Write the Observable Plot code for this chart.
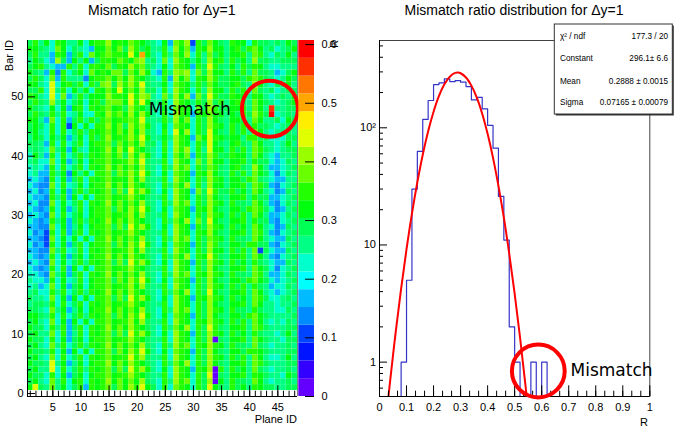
<!DOCTYPE html>
<html><head><meta charset="utf-8">
<script src="https://cdn.jsdelivr.net/npm/d3@7"></script>
<script src="https://cdn.jsdelivr.net/npm/@observablehq/plot@0.6"></script>
<style>
body{margin:0;background:#fff;}
#root{position:relative;width:677px;height:428px;overflow:hidden;background:#fff;}
#root svg{position:absolute;overflow:visible;}
</style></head>
<body><div id="root"></div>
<script>
// ---------------- DATA ----------------
// Heat map: colour band per cell (0-9,a-j => band 0..19 of 20), one string per Bar ID from 59 (top) down to 1,
// each string lists Plane ID 1..48
const mapRows = [
 "9b8a7ba8"+"8a7abbda"+"bacba987"+"a5cbd3b9"+"ca98baa7"+"b99898a9", // 59
 "aa987ca7"+"9875aaca"+"c9db9a88"+"b7dac5ba"+"daa8ab9b"+"ca89789a", // 58
 "9b885ba5"+"9b7cabcb"+"baeaga87"+"b8cad7b8"+"c9a8aab8"+"cb8798a8", // 57
 "8a975d95"+"a8a59bba"+"cbacd897"+"c7dba8a8"+"dab8b9a8"+"d9988999", // 56
 "9ab8755b"+"8b7bbac9"+"badbc987"+"a7cba5b9"+"eb98a8b9"+"ba877888", // 55
 "a985b4b7"+"9a7cabac"+"c9cada75"+"b8dcd7c9"+"daa8b9b8"+"c998579a", // 54
 "9b97c5b8"+"884abbca"+"cadba987"+"b5dac7ba"+"db99aa9b"+"cb9878a9", // 53
 "aa87e7ab"+"9b7b9cd9"+"dbdbe988"+"a7cba8b9"+"ca99ab98"+"da8798a8", // 52
 "99b7e8b7"+"a8a7baca"+"eacad997"+"b7dba7b8"+"daa8b9b7"+"c9897899", // 51
 "ba87e7c5"+"8b8aaadb"+"baebdc87"+"c8dad5c9"+"eb99baa8"+"ba87898a", // 50
 "9b98d8a7"+"9a7ab9cc"+"caebea88"+"b7dba8b9"+"d9b8ab98"+"ca98789a", // 49
 "a987a7a5"+"ab7babca"+"b9dba987"+"a7cba7c9"+"db99aab8"+"ca8i8899", // 48
 "9b98b8b7"+"8a77badb"+"cadada87"+"b7dba5ba"+"caa8a9b9"+"db9j7898", // 47
 "aa85c7b5"+"9b8b9bca"+"bbcbe988"+"b8dac7b9"+"da98aa98"+"ca8897a9", // 46
 "9a97b7b3"+"a7a7bbda"+"c9dbda87"+"a7cba7b9"+"dba8b9b8"+"b9987898", // 45
 "9a87b7b7"+"9b8babca"+"cadad987"+"b7ead7b9"+"ea98b9b8"+"ca878898", // 44
 "8a97a8a5"+"8a7b9bda"+"bbdbea88"+"a8dba5ca"+"eba9aa8b"+"b9977799", // 43
 "9985b7b7"+"9b7abbc9"+"cacad997"+"b7dba7b9"+"ea98ab98"+"ca8878a8", // 42
 "8987c8a5"+"a87aabda"+"daeba987"+"b7dbd7b8"+"eaa8b9b8"+"cb987899", // 41
 "7a85b7b7"+"9b8babca"+"c9dada87"+"a7cac5b9"+"db99baa8"+"ca875889", // 40
 "8977c7a5"+"8a7abbca"+"bbdbe988"+"b7dba7c9"+"daa8aab8"+"b9975798", // 39
 "7875b7b7"+"9b7babda"+"cacad987"+"b8dbc7b9"+"cb98ab98"+"da855789", // 38
 "7855b8a4"+"a8a7bbc9"+"cbdbea87"+"a7cba5ba"+"da98b9b8"+"ca974798", // 37
 "5754b7a5"+"9b7babca"+"badad988"+"b7dba7b9"+"dba8aa9b"+"c9875588", // 36
 "7544c7b7"+"8a7abbda"+"cadba987"+"b8cad7b8"+"daa8aab8"+"cb954789", // 35
 "5745b7a5"+"9b8babc9"+"c9ebda87"+"a7dba5c9"+"eb99b9a8"+"ca874598", // 34
 "7554b8b5"+"a7a7bbca"+"bbdba988"+"b7dba7b9"+"da98aab8"+"b9955789", // 33
 "5744c7a7"+"9b7babda"+"cacad987"+"b8dbc7b9"+"dba8b998"+"ca854798", // 32
 "7545b7a5"+"8b7abbc9"+"cadbea87"+"a7cba5ba"+"da98aa9b"+"cb974589", // 31
 "5754c7b7"+"9a7abbca"+"bbdad988"+"b7dba7b9"+"dba8b9b8"+"ca855798", // 30
 "7545b8a5"+"9b8babda"+"cadba987"+"b8cad7c9"+"ea98aab8"+"b9954789", // 29
 "5544c7a5"+"8a7abbc9"+"c9ebda87"+"a7dba5b9"+"dba8b9a8"+"ca874598", // 28
 "7453b7b5"+"9b7babca"+"bbdba988"+"b7dba7ba"+"da98aab8"+"cb854789", // 27
 "5543c7a7"+"a7a7bbda"+"cacad987"+"b8dbc7b9"+"cba8b998"+"ca875598", // 26
 "7453b7a5"+"9b7abbc9"+"cadbea87"+"a7cba5b9"+"db98aa9b"+"b9954789", // 25
 "5544c8b7"+"8b7babca"+"bbdad988"+"b7dba7b9"+"daa8b9b8"+"c3975598", // 24
 "7545b7a5"+"9a7abbda"+"cadba987"+"b8cad7ba"+"eb98aab8"+"ca854789", // 23
 "5754c7a7"+"9b8babc9"+"c9ebda87"+"a7dba5b9"+"dba8b9a8"+"b9875598", // 22
 "7545b7b5"+"a7a7bbca"+"bbdba988"+"b7dba7b9"+"da98aab8"+"ca974789", // 21
 "7754c8a5"+"9b7babda"+"cacad987"+"b8dbc7ba"+"dba8b998"+"cb855798", // 20
 "8775b7a7"+"8b7abbc9"+"cadbea87"+"a7cba5b9"+"da98aa9b"+"ca975789", // 19
 "7857c7a5"+"9a7abbca"+"bbdad988"+"b7dba7b9"+"dba8b9b8"+"b9857798", // 18
 "8977b8b7"+"9b8babda"+"cadba987"+"b8cad7b9"+"ea98aab8"+"ca875789", // 17
 "9887c7a5"+"a7a7bbc9"+"c9ebda87"+"a7dba5ba"+"dba8b9a8"+"cb977898", // 16
 "8998b7b7"+"9b7babca"+"bbdba988"+"b7dba7b9"+"da98aab8"+"ca887889", // 15
 "9987c8a5"+"8a7abbda"+"cacad987"+"b8dbc7b9"+"dba8b998"+"b9887798", // 14
 "aa98b7b7"+"9b8babc9"+"cadbea87"+"a7cba5b9"+"da98aa9b"+"ca988889", // 13
 "9a87c7a5"+"a7a7bbca"+"bbdad988"+"b7dba7ba"+"dba8b9b8"+"ca878798", // 12
 "a997b8b5"+"9b7babda"+"cadba987"+"b8cad7b9"+"eb98aab8"+"cb988899", // 11
 "9a88c7b5"+"8b7babc9"+"c9ebda87"+"a7dba5b9"+"dba8b9a8"+"b98878a8", // 10
 "a997b7a5"+"9a7abbca"+"bbdba988"+"b7dba7b9"+"d098aab8"+"ca988799", // 9
 "9a87c8b7"+"9b8babda"+"cacad987"+"b8dbc7ba"+"dba8b998"+"c9878898", // 8
 "a998b7a5"+"a7a7bbc9"+"cadbea87"+"a7cba5b9"+"da98aa9b"+"ba988899", // 7
 "9a87c7b7"+"9b7babca"+"bbebd988"+"b7dba7b9"+"dba8b9b8"+"ca8778a8", // 6
 "a998e8a5"+"8a7abbda"+"cadba987"+"b8cad7b9"+"da98aab8"+"cb988899", // 5
 "9a88e7b7"+"9b8babc9"+"c9ebda87"+"a7dba5ba"+"d0b8b9a8"+"c9878898", // 4
 "a997b7a5"+"9a7abbca"+"bbdba988"+"b7dba7b9"+"e098aab8"+"ba9887a9", // 3
 "9a87c8b7"+"ab7babda"+"cacad987"+"b8dbc7b9"+"d0a8b998"+"ca878898", // 2
 "ae98c8a7"+"9b5babc9"+"cadbea97"+"b7cba7b9"+"ea98b9a8"+"ba998899"  // 1
];
const zMax = 0.607;
const nBands = 20;
const palette = ["#6300ff","#3300ff","#0014ff","#0044ff","#008bff","#00bbff","#00fffc","#00ffcc","#00ff85","#00ff55",
                 "#00ff0e","#22ff00","#69ff00","#99ff00","#e0ff00","#ffee00","#ffa700","#ff7700","#ff3000","#ff0000"];

// Histogram of R (bin width 0.02 from 0 to 1)
const binWidth = 0.02;
const histCounts = [0,0,0,0,1,5,30,63,118,171,234,242,262,248,253,245,225,173,182,145,105,67,26,11,2,1,0,0,1,0,1,
                    0,0,0,0,0,0,0,0,0,0,0,0,0,0,0,0,0,0,0];
// Gaussian fit curve as drawn
const fitR = [0.03,0.04,0.06,0.08,0.10,0.12,0.14,0.16,0.18,0.20,0.22,0.24,0.26,0.28,0.29,0.30,0.32,0.34,0.36,0.38,0.40,0.42,0.44,0.46,0.48,0.50,0.52,0.54,0.56];
const fitN = [0.435,0.714,1.81,4.24,9.20,18.5,34.3,58.9,93.5,137,187,235,273,294,296,292,269,229,181,132,88.8,55.4,31.9,17.1,8.42,3.84,1.62,0.635,0.229];
const statsRows = [["χ² / ndf","177.3 / 20"],["Constant","296.1± 6.6"],["Mean","0.2888 ± 0.0015"],["Sigma","0.07165 ± 0.00079"]];

// tick values
const mapYMajor = [0,10,20,30,40,50];
const mapYMinor = [2,4,6,8,12,14,16,18,22,24,26,28,32,34,36,38,42,44,46,48,52,54,56,58];
const mapXMajor = [5,10,15,20,25,30,35,40,45];
const mapXMinor = d3.range(1,49);
const zTicks = [0,0.1,0.2,0.3,0.4,0.5,0.6];
const histXMajor = [0,0.1,0.2,0.3,0.4,0.5,0.6,0.7,0.8,0.9,1];
const histXMinor = d3.range(0,31).map(i=>i/30);
const histYMajor = [1,10,100];
const histYMinor = [0.6,0.7,0.8,0.9,2,3,4,5,6,7,8,9,20,30,40,50,60,70,80,90,200,300,400,500];

// annotations (data-space anchors)
const mapCircle = [{plane:43.6, bar:48.0}];
const mapLabel = [{plane:22.06, bar:47.94, text:"Mismatch"}];
const histCircle = [{R:0.5875, n:0.84}];
const histLabel = [{R:0.7066, n:0.856, text:"Mismatch"}];

// ---------------- BUILD ----------------
const FONT = "'Liberation Sans', Arial, Helvetica, sans-serif";
const root = document.getElementById("root");
function place(svg, left, top){ svg.style.position="absolute"; svg.style.left=left+"px"; svg.style.top=top+"px"; root.appendChild(svg); }

const cells = [];
mapRows.forEach((s,i)=>{ const bar = 59 - i; for (let j=0;j<s.length;j++){ const k = parseInt(s[j],20); cells.push({plane:j+1, bar, r:(k+0.5)*zMax/nBands}); }});
const colorScale = {type:"threshold", domain:d3.range(1,nBands).map(k=>k*zMax/nBands), range:palette};
const styleBase = {background:"none", fontFamily:FONT, fontSize:"11px", color:"black", overflow:"visible"};

const heat = Plot.plot({
  width:300, height:428, marginLeft:27, marginRight:3, marginTop:40, marginBottom:32,
  style:styleBase,
  x:{domain:[0.5,48.5]}, y:{domain:[-0.5,59.5]},
  color:colorScale,
  marks:[
    Plot.rect(cells,{x1:d=>d.plane-0.5,x2:d=>d.plane+0.5,y1:d=>d.bar-0.5,y2:d=>d.bar+0.5,fill:"r"}),
    Plot.ruleX([48.5],{stroke:"#808080"}),
    Plot.ruleX([0.5],{stroke:"black"}),
    Plot.ruleY([-0.5],{stroke:"black"}),
    Plot.tickY(mapYMajor,{y:d=>d,insetRight:262,stroke:"black"}),
    Plot.tickY(mapYMinor,{y:d=>d,insetRight:266,stroke:"black"}),
    Plot.tickX(mapXMajor,{x:d=>d,insetTop:345.3,stroke:"black"}),
    Plot.tickX(mapXMinor,{x:d=>d,insetTop:350.7,stroke:"black"}),
    Plot.axisY({ticks:mapYMajor,tickSize:0,tickPadding:4,label:null}),
    Plot.axisX({ticks:mapXMajor,tickSize:0,tickPadding:7,label:null}),
    Plot.dot(mapCircle,{x:"plane",y:"bar",r:28,stroke:"#ff0000",strokeWidth:4,fill:"none"}),
    Plot.text(mapLabel,{x:"plane",y:"bar",text:"text",textAnchor:"start",fontFamily:"'DejaVu Sans', sans-serif",fontSize:17,fill:"black"})
  ]
});
place(heat,0,0);

const bands = d3.range(nBands);
const cbar = Plot.plot({
  width:60, height:428, marginLeft:8.3, marginRight:36, marginTop:40, marginBottom:32,
  style:styleBase,
  x:{domain:[0,1],axis:null}, y:{domain:[0,zMax]},
  color:colorScale,
  marks:[
    Plot.rect(bands,{x1:0,x2:1,y1:k=>k*zMax/nBands,y2:k=>(k+1)*zMax/nBands,fill:k=>(k+0.5)*zMax/nBands}),
    Plot.tickY(zTicks,{y:d=>d,insetLeft:6.7,stroke:"black"}),
    Plot.axisY({anchor:"right",ticks:zTicks,tickSize:0,tickPadding:7,label:null,tickFormat:d=>d===0?"0":d.toFixed(1)})
  ]
});
place(cbar,290,0);

const histLine = histCounts.map((c,i)=>({x:i*binWidth, y:c>0?c:0.01})).concat([{x:1,y:0.01}]);
const fitPts = fitR.map((r,i)=>({x:r,y:fitN[i]}));
const yDom = [0.509,556];
const hist = Plot.plot({
  width:337, height:428, marginLeft:39, marginRight:27.7, marginTop:40, marginBottom:32,
  style:styleBase,
  x:{domain:[0,1]}, y:{type:"log",domain:yDom},
  marks:[
    Plot.frame({stroke:"#444"}),
    Plot.line(histLine,{x:"x",y:"y",curve:"step-after",stroke:"#3535c8",strokeWidth:1.2,clip:true}),
    Plot.line(fitPts,{x:"x",y:"y",curve:"catmull-rom",stroke:"#ff0000",strokeWidth:2,clip:true}),
    Plot.ruleX([0],{stroke:"black"}),
    Plot.ruleY([yDom[0]],{stroke:"black"}),
    Plot.tickX(histXMajor,{x:d=>d,insetTop:345.3,stroke:"black"}),
    Plot.tickX(histXMinor,{x:d=>d,insetTop:350.7,stroke:"black"}),
    Plot.tickY(histYMajor,{y:d=>d,insetRight:262.3,stroke:"black"}),
    Plot.tickY(histYMinor,{y:d=>d,insetRight:266.3,stroke:"black"}),
    Plot.axisX({ticks:histXMajor,tickSize:0,tickPadding:7,label:null,tickFormat:d=>d===0?"0":d===1?"1":d.toFixed(1)}),
    Plot.axisY({ticks:histYMajor,tickSize:0,tickPadding:3.5,label:null,tickFormat:d=>d===100?"10²":String(d)}),
    Plot.dot(histCircle,{x:"R",y:"n",r:26.4,stroke:"#ff0000",strokeWidth:4,fill:"none"}),
    Plot.text(histLabel,{x:"R",y:"n",text:"text",textAnchor:"start",fontFamily:"'DejaVu Sans', sans-serif",fontSize:17,fill:"black"})
  ]
});
place(hist,340,0);

// overlay: titles, axis titles, stats box
const ov = d3.create("svg").attr("width",677).attr("height",428).style("font-family",FONT);
ov.append("text").attr("x",161.7).attr("y",15).attr("text-anchor","middle").attr("font-size",14).text("Mismatch ratio for Δy=1");
ov.append("text").attr("x",514).attr("y",15).attr("text-anchor","middle").attr("font-size",14).text("Mismatch ratio distribution for Δy=1");
ov.append("text").attr("transform","translate(13,40) rotate(-90)").attr("text-anchor","end").attr("font-size",11).text("Bar ID");
ov.append("text").attr("x",297).attr("y",423).attr("text-anchor","end").attr("font-size",11).text("Plane ID");
ov.append("text").attr("transform","translate(338,40) rotate(-90)").attr("text-anchor","end").attr("font-size",11).text("R");
ov.append("text").attr("x",648).attr("y",426).attr("text-anchor","end").attr("font-size",11).text("R");
const bx=554.3, by=24, bw=118, bh=90;
ov.append("rect").attr("x",bx+1.5).attr("y",by+1.5).attr("width",bw).attr("height",bh).attr("fill","#333");
ov.append("rect").attr("x",bx).attr("y",by).attr("width",bw).attr("height",bh).attr("fill","#fff").attr("stroke","#333").attr("stroke-width",1);
const rowY=[38.6,61.2,83.9,105.2];
statsRows.forEach((r,i)=>{
  ov.append("text").attr("x",560).attr("y",rowY[i]).attr("font-size",8.2).text(r[0]);
  ov.append("text").attr("x",668).attr("y",rowY[i]).attr("font-size",8.2).attr("text-anchor","end").text(r[1]);
});
place(ov.node(),0,0);
</script></body></html>
